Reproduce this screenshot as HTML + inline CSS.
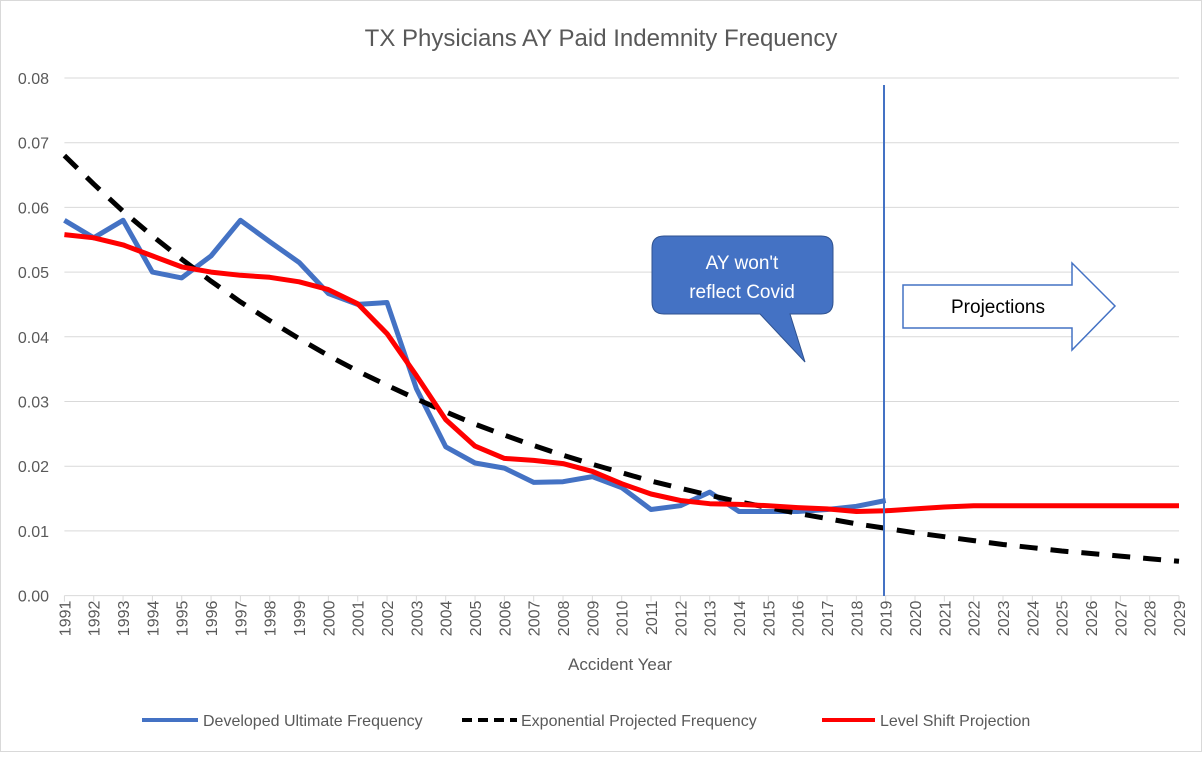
<!DOCTYPE html>
<html><head><meta charset="utf-8"><style>
body{margin:0;background:#fff;font-family:"Liberation Sans",sans-serif}
svg text{font-family:"Liberation Sans",sans-serif;fill:#595959}
</style></head><body>
<svg id="c" width="1202" height="752" viewBox="0 0 1202 752" xmlns="http://www.w3.org/2000/svg">
<rect x="0.5" y="0.5" width="1201" height="751" fill="#fff" stroke="#d9d9d9"/>
<text x="601" y="46" font-size="24" text-anchor="middle">TX Physicians AY Paid Indemnity Frequency</text>
<g id="grid"></g><g id="xt"></g><g id="series"></g>
<line x1="884" y1="85" x2="884" y2="596" stroke="#4472c4" stroke-width="2"/>
<g>
<path d="M664,236 H821 Q833,236 833,248 V302 Q833,314 821,314 H790 L805,362 L760,314 H664 Q652,314 652,302 V248 Q652,236 664,236 Z" fill="#4472c4" stroke="#2f528f" stroke-width="1"/>
<text x="742" y="269" font-size="19" text-anchor="middle" style="fill:#fff">AY won't</text>
<text x="742" y="298" font-size="19" text-anchor="middle" style="fill:#fff">reflect Covid</text>
</g>
<g>
<path d="M903,285 H1072 V263 L1115,306 L1072,350 V328 H903 Z" fill="#fff" stroke="#4472c4" stroke-width="1.5"/>
<text x="998" y="313" font-size="19" text-anchor="middle" style="fill:#000">Projections</text>
</g>
<text x="620" y="670" font-size="17" text-anchor="middle">Accident Year</text>
<g>
<g><line x1="142" y1="720" x2="198" y2="720" stroke="#4472c4" stroke-width="4"/><text x="203" y="726" font-size="16">Developed Ultimate Frequency</text></g>
<g><line x1="462" y1="720" x2="517" y2="720" stroke="#000" stroke-width="4" stroke-dasharray="10,6"/><text x="521" y="726" font-size="16">Exponential Projected Frequency</text></g>
<g><line x1="822" y1="720" x2="875" y2="720" stroke="#ff0000" stroke-width="4"/><text x="880" y="726" font-size="16">Level Shift Projection</text></g>
</g>
</svg>
<script>
const years=[];for(let y=1991;y<=2029;y++)years.push(y);
const yTicks=[0,0.01,0.02,0.03,0.04,0.05,0.06,0.07,0.08];
const yTickLabels=["0.00","0.01","0.02","0.03","0.04","0.05","0.06","0.07","0.08"];
const developed=[0.058,0.0553,0.058,0.050,0.0491,0.0525,0.058,0.0547,0.0515,0.0467,0.0450,0.0453,0.032,0.023,0.0205,0.0197,0.0175,0.0176,0.0184,0.0167,0.0133,0.0139,0.016,0.013,0.013,0.013,0.0133,0.0138,0.0147];
const levelShift=[0.0558,0.0553,0.0542,0.0525,0.0508,0.050,0.0495,0.0492,0.0485,0.0473,0.0451,0.0405,0.0340,0.0272,0.0231,0.0212,0.0209,0.0204,0.0192,0.0173,0.0157,0.0147,0.0142,0.0141,0.0139,0.0136,0.0134,0.0130,0.0131,0.0134,0.0137,0.0139,0.0139,0.0139,0.0139,0.0139,0.0139,0.0139,0.0139];
const exponential=[0.068,0.0636,0.0594,0.0556,0.0520,0.0486,0.0454,0.0425,0.0397,0.0371,0.0347,0.0325,0.0304,0.0284,0.0265,0.0248,0.0232,0.0217,0.0203,0.0190,0.0177,0.0166,0.0155,0.0145,0.0136,0.0127,0.0119,0.0111,0.0104,0.0097,0.0091,0.0085,0.0079,0.0074,0.0069,0.0065,0.0061,0.0057,0.0053];
const NS='http://www.w3.org/2000/svg';
const X0=64.4,X1=1179,Y0=595.6,Y1=78;
const xs=i=>X0+i*(X1-X0)/(years.length-1);
const ys=v=>Y0-(v-0)/(0.08)*(Y0-Y1);
function mk(t,a,p){const e=document.createElementNS(NS,t);for(const k in a)e.setAttribute(k,a[k]);p.appendChild(e);return e;}
const grid=document.getElementById('grid');
yTicks.forEach((v,i)=>{
 const l=mk('line',{x1:X0,x2:X1,y1:ys(v),y2:ys(v),stroke:'#d9d9d9','stroke-width':1},grid);
 
 
 const t=mk('text',{x:49,y:ys(v)+6,'font-size':16,'text-anchor':'end'},grid);
 t.textContent=yTickLabels[i];
 
 
});
const xt=document.getElementById('xt');
years.forEach((yr,i)=>{
 const x=xs(i);
 const l=mk('line',{x1:x,x2:x,y1:Y0,y2:Y0+6,stroke:'#d9d9d9'},xt);
 
 
 const t=mk('text',{x:0,y:0,'font-size':16,'text-anchor':'end',transform:`translate(${x+6},${Y0+5}) rotate(-90)`},xt);
 t.textContent=yr;
 
 
});
const sg=document.getElementById('series');
function line(data,color,dash,name){
 const d=data.map((v,i)=>(i?'L':'M')+xs(i).toFixed(1)+','+ys(v).toFixed(1)).join(' ');
 const p=mk('path',{d:d,fill:'none',stroke:color,'stroke-width':5,'stroke-linejoin':'round'},sg);
 if(dash)p.setAttribute('stroke-dasharray',dash);
 
 
}
line(developed,'#4472c4',null,'developed-ultimate-line');
line(exponential,'#000','18,13','exponential-projected-line');
line(levelShift,'#ff0000',null,'level-shift-line');
</script>
</body></html>
